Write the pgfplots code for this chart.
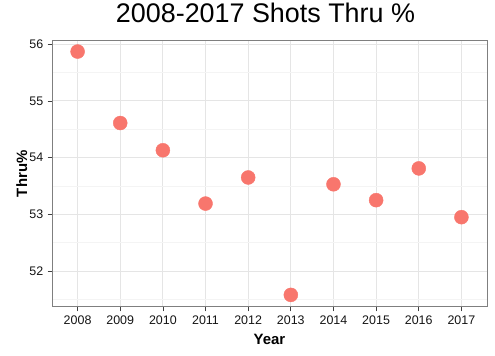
\documentclass[border=0pt]{standalone}
\usepackage{fontspec}
\setmainfont{Liberation Sans}
\usepackage{pgfplots}
\pgfplotsset{compat=1.18}
\definecolor{pt}{HTML}{F8766D}
\definecolor{gmaj}{HTML}{E5E5E5}
\definecolor{gmin}{HTML}{F4F4F4}
\definecolor{brd}{HTML}{7F7F7F}
\begin{document}
\begin{tikzpicture}[x=1bp,y=1bp]
\path (0,0) rectangle (495,354);
\begin{axis}[at={(52bp,49bp)}, anchor=south west, scale only axis,
  width=435bp, height=266bp,
  xmin=2007.4, xmax=2017.6, ymin=51.37, ymax=56.06,
  xtick={2008,...,2017}, ytick={52,...,56}, minor ytick={51.5,52.5,...,55.5},
  grid=both, major grid style={gmaj, line width=0.9bp}, minor grid style={gmin, line width=0.5bp},
  axis line style={brd, line width=0.9bp},
  tick style={black!75, line width=0.7bp}, major tick length=4.5bp, minor tick length=0pt,
  tick align=outside, xtick pos=bottom, ytick pos=left,
  ticklabel style={font=\fontsize{12.5}{14}\selectfont, text=black!92},
  xticklabel style={anchor=north, inner sep=0pt, yshift=-4.5bp},
  yticklabel style={anchor=east, inner sep=0pt, xshift=-4bp},
  /pgf/number format/assume math mode=true, /pgf/number format/1000 sep={},
  xlabel={Year}, ylabel={Thru\%},
  label style={font=\fontsize{15}{17}\selectfont\bfseries},
  xlabel style={at={(axis description cs:0.5,0)}, anchor=base, yshift=-38bp},
  ylabel style={at={(axis description cs:0,0.5)}, anchor=base, yshift=25bp},
  title={2008-2017 Shots Thru \%},
  title style={font=\fontsize{27}{30}\selectfont, at={(axis description cs:0.5,1)}, anchor=base, yshift=12bp, xshift=-4bp},
]
\addplot[only marks, mark=*, mark size=7bp, mark options={fill=pt, draw=pt}] coordinates {
(2008,55.87) (2009,54.61) (2010,54.13) (2011,53.19) (2012,53.65)
(2013,51.58) (2014,53.53) (2015,53.25) (2016,53.81) (2017,52.95)
};
\end{axis}
\end{tikzpicture}
\end{document}
